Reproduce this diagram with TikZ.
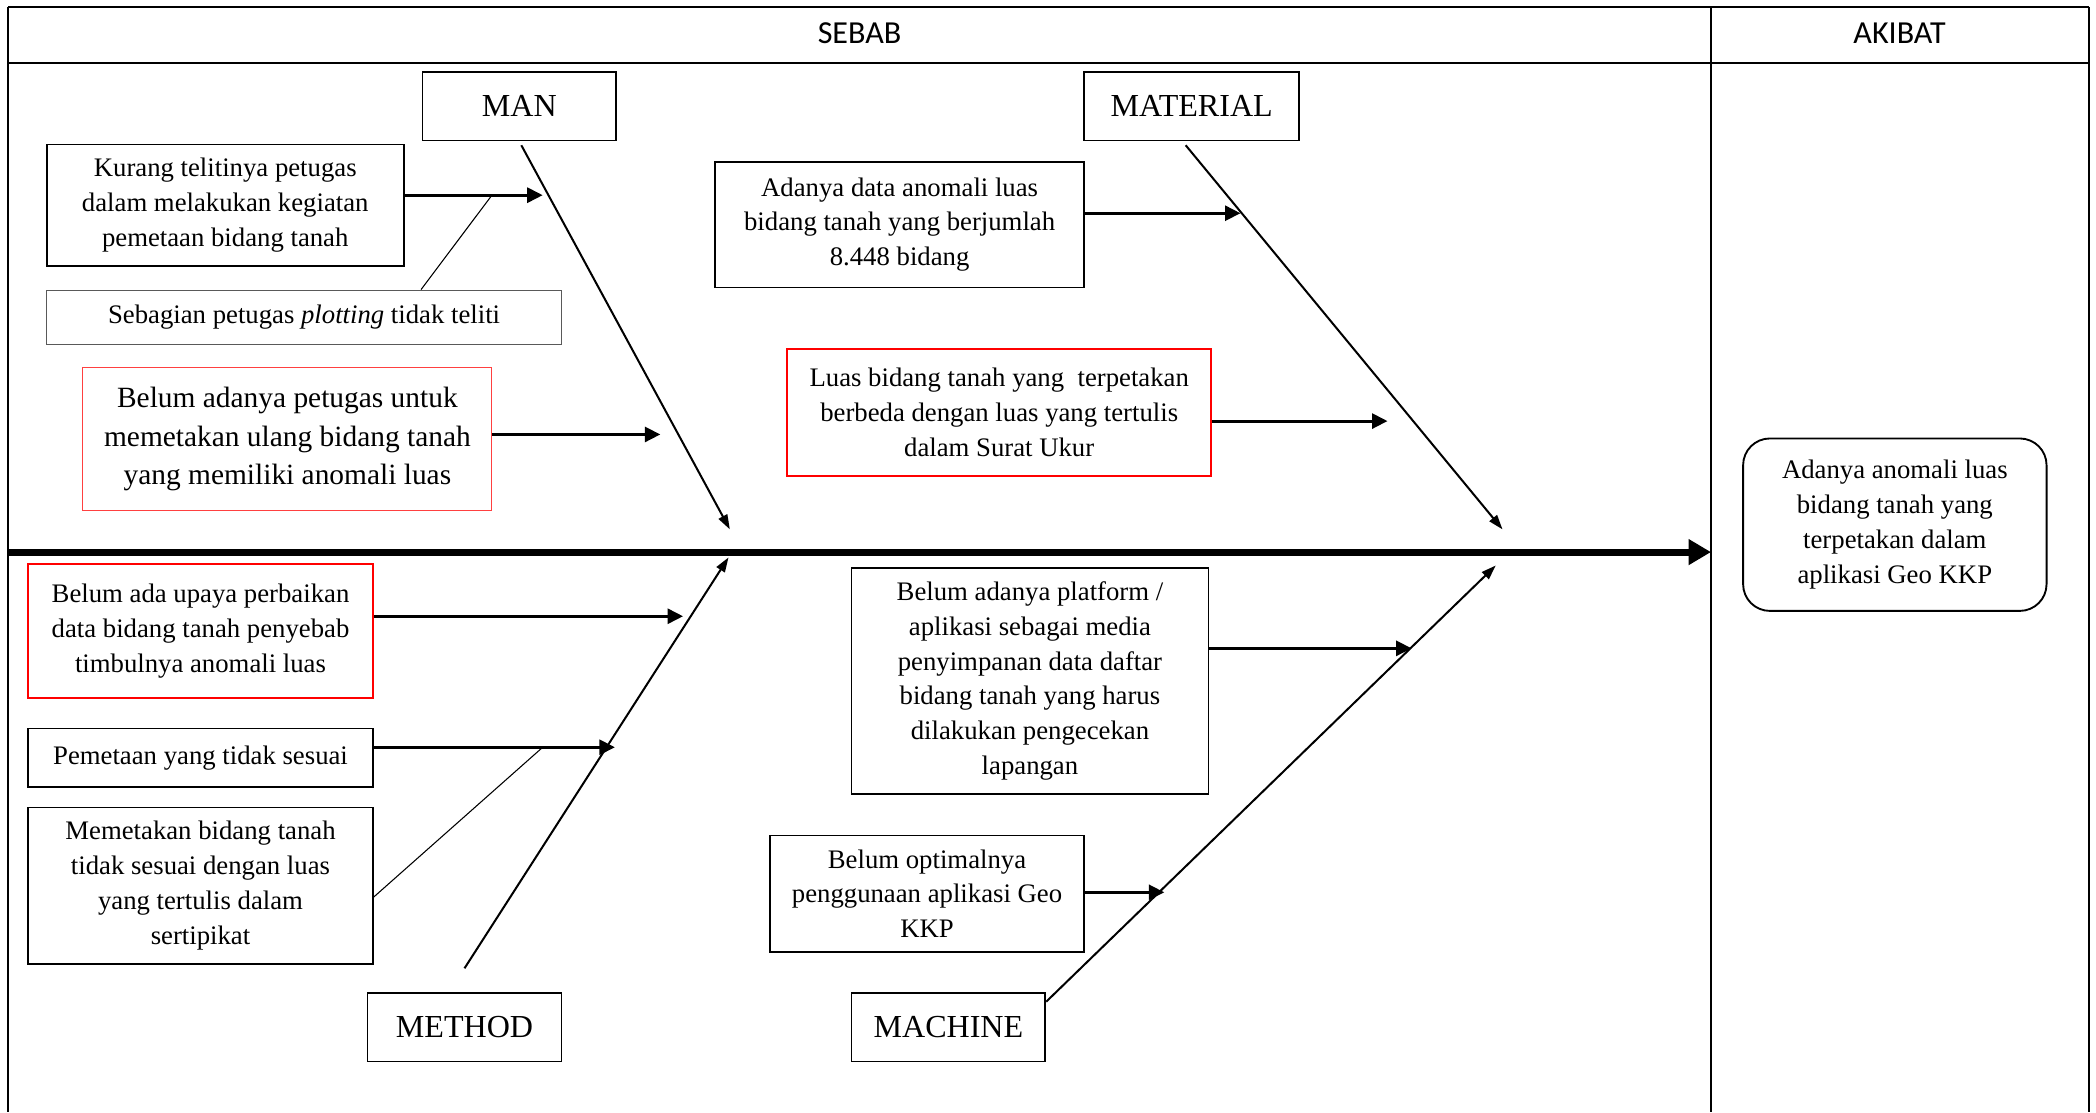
\documentclass[tikz,border=0pt]{standalone}
\usepackage{fontspec}
\setmainfont{Liberation Serif}
\newfontfamily\hdrfont{Carlito}
\usetikzlibrary{arrows.meta}
\begin{document}
\begin{tikzpicture}[x=0.5pt,y=-0.5pt,
 box/.style={draw, line width=0.65pt, inner sep=0pt, align=center, font=\fontsize{10}{13}\selectfont},
 redbox/.style={box, draw=red},
 cat/.style={draw, line width=0.65pt, inner sep=0pt, font=\fontsize{12}{14}\selectfont, minimum width=72.5pt, minimum height=25.5pt},
 bone/.style={line width=0.75pt, -{Triangle[length=5.5pt,width=3.6pt]}},
 subarrow/.style={line width=1.1pt, -{Triangle[length=5.8pt,width=5.6pt]}},
 thinline/.style={line width=0.4pt},
 frameline/.style={line width=0.75pt},
 spine/.style={line width=2.6pt, -{Triangle[length=8.4pt,width=9.2pt]}},
 hdr/.style={font=\hdrfont\fontsize{12}{14}\selectfont, inner sep=0pt},
]
\useasboundingbox (0,0) rectangle (1568,832);

% table frame
\draw[frameline] (6,5) -- (1563,5);
\draw[frameline] (6,47) -- (1563,47);
\draw[frameline] (6,5) -- (6,832);
\draw[frameline] (1280,5) -- (1280,832);
\draw[frameline] (1563,5) -- (1563,832);

\node[hdr] (sebab) at (643,25) {SEBAB};
\node[hdr] (akibathdr) at (1421,25) {AKIBAT};

% category boxes
\node[cat] (man) at (388.5,79.5) {MAN};
\node[cat, minimum width=80.5pt] (material) at (891.5,79.5) {MATERIAL};
\node[cat] (method) at (347.5,768.5) {METHOD};
\node[cat] (machine) at (709.5,768.5) {MACHINE};

% cause boxes
\node[box, minimum width=133.5pt, minimum height=45.5pt] (kurang) at (168.5,153.5)
 {Kurang telitinya petugas\\dalam melakukan kegiatan\\pemetaan bidang tanah};
\node[box, draw=black!65, line width=0.4pt, minimum width=192.5pt, minimum height=20.5pt] (sebagian) at (227.5,237.5)
 {Sebagian petugas \textit{plotting} tidak teliti};
\node[box, draw=red!75, line width=0.4pt, font=\fontsize{11}{14.3}\selectfont, minimum width=153pt, minimum height=53.5pt] (petugas) at (215,328.5)
 {Belum adanya petugas untuk\\memetakan ulang bidang tanah\\yang memiliki anomali luas};
\node[box, minimum width=138pt, minimum height=47pt] (adanya) at (673,168)
 {Adanya data anomali luas\\bidang tanah yang berjumlah\\8.448 bidang};
\node[redbox, minimum width=158.5pt, minimum height=47.5pt] (luas) at (747.5,308.5)
 {Luas bidang tanah yang\ \ terpetakan\\berbeda dengan luas yang tertulis\\dalam Surat Ukur};
\node[redbox, minimum width=129pt, minimum height=50pt] (upaya) at (150,472)
 {Belum ada upaya perbaikan\\data bidang tanah penyebab\\timbulnya anomali luas};
\node[box, minimum width=129pt, minimum height=22pt] (pemetaan) at (150,567)
 {Pemetaan yang tidak sesuai};
\node[box, minimum width=129pt, minimum height=58.5pt] (memetakan) at (150,662.5)
 {Memetakan bidang tanah\\tidak sesuai dengan luas\\yang tertulis dalam\\sertipikat};
\node[box, minimum width=133.5pt, minimum height=84.5pt] (platform) at (770.5,509.5)
 {Belum adanya platform /\\aplikasi sebagai media\\penyimpanan data daftar\\bidang tanah yang harus\\dilakukan pengecekan\\lapangan};
\node[box, minimum width=117.5pt, minimum height=43.5pt] (optimal) at (693.5,668.5)
 {Belum optimalnya\\penggunaan aplikasi Geo\\KKP};

% effect box
\node[box, rounded corners=10pt, line width=0.7pt, minimum width=113.5pt, minimum height=64.5pt] (akibat) at (1417.5,392.5)
 {Adanya anomali luas\\bidang tanah yang\\terpetakan dalam\\aplikasi Geo KKP};

% coordinates
\coordinate (spineL) at (6,413);
\coordinate (spineR) at (1280,413);
\coordinate (manT) at (546,396);
\coordinate (matT) at (1124,396);
\coordinate (metT) at (545,417);
\coordinate (macT) at (1119,423);
\coordinate (kurangT) at (406,146);
\coordinate (kurangJ) at (368,146);
\coordinate (petugasT) at (494,325);
\coordinate (adanyaT) at (928,159.5);
\coordinate (luasT) at (1038,315);
\coordinate (upayaT) at (511,461);
\coordinate (pemT) at (460,559);
\coordinate (pemJ) at (406,559);
\coordinate (platT) at (1056,485);
\coordinate (optT) at (871,667.5);

% spine
\draw[spine] (spineL) -- (spineR);

% bones
\draw[bone] ([xshift=0.75pt,yshift=-1.5pt]man.south) -- (manT);
\draw[bone] ([xshift=-2.25pt,yshift=-1.5pt]material.south) -- (matT);
\draw[bone] ([yshift=9pt]method.north) -- (metT);
\draw[bone] ([yshift=-3.5pt]machine.north east) -- (macT);

% sub-cause arrows
\draw[subarrow] (kurang.east |- kurangT) -- (kurangT);
\draw[subarrow] (petugas.east |- petugasT) -- (petugasT);
\draw[subarrow] (adanya.east |- adanyaT) -- (adanyaT);
\draw[subarrow] (luas.east |- luasT) -- (luasT);
\draw[subarrow] (upaya.east |- upayaT) -- (upayaT);
\draw[subarrow] (pemetaan.east |- pemT) -- (pemT);
\draw[subarrow] (platform.east |- platT) -- (platT);
\draw[subarrow] (optimal.east |- optT) -- (optT);

% thin links
\draw[thinline] ([xshift=43.75pt]sebagian.north) -- (kurangJ);
\draw[thinline] ([yshift=-4.25pt]memetakan.east) -- (pemJ);
\end{tikzpicture}
\end{document}
